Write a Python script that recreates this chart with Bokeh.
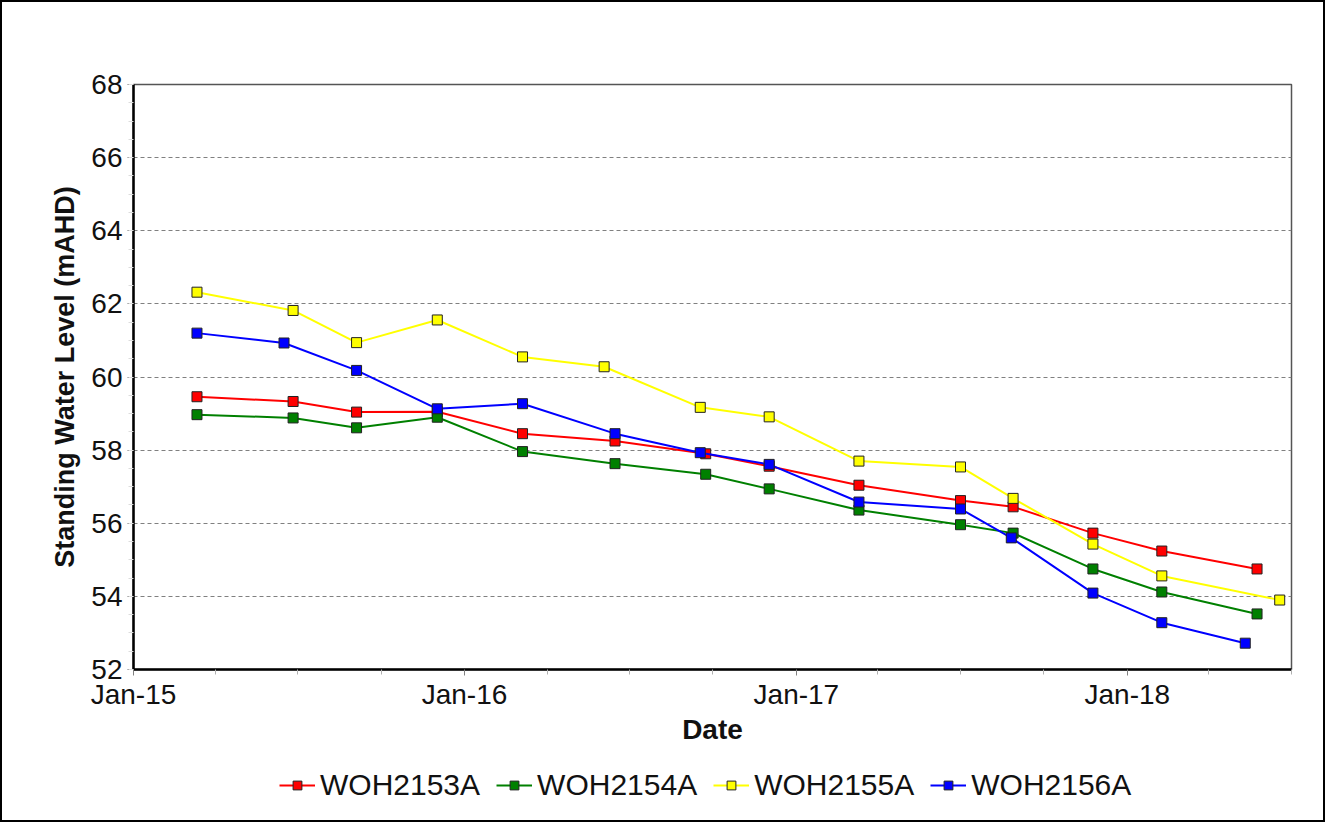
import pandas as pd
from bokeh.plotting import figure
from bokeh.layouts import column
from bokeh.models import Range1d, FixedTicker, DatetimeTickFormatter, Legend, LegendItem
from bokeh.embed import file_html
from bokeh.resources import INLINE

# ---------------- data ----------------
series_names = ["WOH2153A", "WOH2154A", "WOH2155A", "WOH2156A"]
series_colors = ["#FF0000", "#008000", "#FFFF00", "#0000FF"]

dates_2153 = ["2015-03-12", "2015-06-26", "2015-09-04", "2015-12-02", "2016-03-05", "2016-06-15",
              "2016-09-23", "2016-12-02", "2017-03-11", "2017-07-01", "2017-08-28", "2017-11-24",
              "2018-02-08", "2018-05-24"]
swl_2153 = [59.46, 59.33, 59.04, 59.05, 58.45, 58.25, 57.90, 57.56, 57.04, 56.62, 56.45, 55.73, 55.24, 54.75]

dates_2154 = ["2015-03-12", "2015-06-26", "2015-09-04", "2015-12-02", "2016-03-05", "2016-06-15",
              "2016-09-23", "2016-12-02", "2017-03-11", "2017-07-01", "2017-08-28", "2017-11-24",
              "2018-02-08", "2018-05-24"]
swl_2154 = [58.97, 58.88, 58.61, 58.90, 57.96, 57.63, 57.34, 56.94, 56.36, 55.96, 55.73, 54.75, 54.12, 53.52]

dates_2155 = ["2015-03-12", "2015-06-26", "2015-09-04", "2015-12-02", "2016-03-05", "2016-06-03",
              "2016-09-17", "2016-12-02", "2017-03-11", "2017-07-01", "2017-08-28", "2017-11-24",
              "2018-02-08", "2018-06-18"]
swl_2155 = [62.32, 61.82, 60.94, 61.56, 60.55, 60.28, 59.17, 58.91, 57.70, 57.54, 56.68, 55.43, 54.56, 53.90]

dates_2156 = ["2015-03-12", "2015-06-16", "2015-09-04", "2015-12-02", "2016-03-05", "2016-06-15",
              "2016-09-17", "2016-12-02", "2017-03-11", "2017-07-01", "2017-08-26", "2017-11-24",
              "2018-02-08", "2018-05-11"]
swl_2156 = [61.20, 60.93, 60.18, 59.13, 59.27, 58.45, 57.93, 57.61, 56.58, 56.39, 55.60, 54.09, 53.28, 52.72]

y_ticks = [52, 54, 56, 58, 60, 62, 64, 66, 68]
y_minor_ticks = [52 + 0.5 * i for i in range(33)]
x_tick_dates = ["2015-01-01", "2016-01-01", "2017-01-01", "2018-01-01"]
x_minor_dates = ["2015-04-01", "2015-07-01", "2015-10-01", "2016-04-01", "2016-07-01", "2016-10-01",
                 "2017-04-01", "2017-07-01", "2017-10-01", "2018-04-01", "2018-07-01"]
x_start, x_end = "2015-01-01", "2018-07-01"
y_start, y_end = 52, 68

all_dates = [dates_2153, dates_2154, dates_2155, dates_2156]
all_values = [swl_2153, swl_2154, swl_2155, swl_2156]


def ms(d):
    return pd.Timestamp(d).value / 1e6


FONT = "Liberation Sans"
W = 1321
H_MAIN = 747
H_LEG = 71

p = figure(width=W, height=H_MAIN, x_axis_type="datetime",
           x_range=Range1d(start=pd.Timestamp(x_start), end=pd.Timestamp(x_end)),
           y_range=Range1d(start=y_start, end=y_end),
           output_backend="svg", toolbar_location=None,
           min_border_left=131, min_border_top=82, min_border_right=32, min_border_bottom=80)

p.background_fill_color = "white"
p.border_fill_color = "white"
p.outline_line_color = "#555555"
p.outline_line_width = 1.5

for name, color, d, v in zip(series_names, series_colors, all_dates, all_values):
    x = pd.to_datetime(d)
    p.line(x, v, line_color=color, line_width=2)
    p.scatter(x, v, marker="square", size=10, fill_color=color, line_color="#222222", line_width=1)

# axes
p.xaxis.ticker = FixedTicker(ticks=[ms(d) for d in x_tick_dates], minor_ticks=[ms(d) for d in x_minor_dates])
fmt = "%b-%y"
p.xaxis.formatter = DatetimeTickFormatter(microseconds=fmt, milliseconds=fmt, seconds=fmt, minsec=fmt,
                                          minutes=fmt, hourmin=fmt, hours=fmt, days=fmt, months=fmt, years=fmt)
p.yaxis.ticker = FixedTicker(ticks=y_ticks, minor_ticks=y_minor_ticks)

for ax in (p.xaxis[0], p.yaxis[0]):
    ax.axis_line_color = "black"
    ax.axis_line_width = 2.5
    ax.major_tick_line_color = "#808080"
    ax.major_tick_out = 6
    ax.major_tick_in = 0
    ax.minor_tick_out = 5
    ax.minor_tick_in = 0
    ax.major_label_text_font = FONT
    ax.major_label_text_font_size = "28px"
    ax.major_label_text_color = "#111111"
    ax.axis_label_text_font = FONT
    ax.axis_label_text_font_style = "bold"
    ax.axis_label_text_color = "#111111"

p.xaxis.minor_tick_line_color = "#b0b0b0"
p.yaxis.minor_tick_line_color = "#dddddd"
p.xaxis.major_label_standoff = 3
p.yaxis.major_label_standoff = 5
p.xaxis.axis_label = "Date"
p.xaxis.axis_label_text_font_size = "28px"
p.xaxis.axis_label_standoff = 1
p.yaxis.axis_label = "Standing Water Level (mAHD)"
p.yaxis.axis_label_text_font_size = "27px"
p.yaxis.axis_label_standoff = 8

p.xgrid.visible = False
p.ygrid.ticker = FixedTicker(ticks=y_ticks)
p.ygrid.grid_line_color = "#808080"
p.ygrid.grid_line_dash = "4 3"
p.ygrid.grid_line_width = 1

# ---------------- legend strip below the chart ----------------
# the series are re-plotted here far outside the strip's visible range, only to feed the legend glyphs
pl = figure(width=W, height=H_LEG,
            x_range=Range1d(start=pd.Timestamp(x_start), end=pd.Timestamp(x_end)),
            y_range=Range1d(1000, 1001),
            output_backend="svg", toolbar_location=None,
            x_axis_location=None, y_axis_location=None,
            min_border=0, min_border_left=0, min_border_right=0, min_border_top=0, min_border_bottom=0)
pl.outline_line_color = None
pl.xgrid.visible = False
pl.ygrid.visible = False
pl.border_fill_color = "white"
pl.background_fill_color = "white"

items = []
for name, color, d, v in zip(series_names, series_colors, all_dates, all_values):
    x = pd.to_datetime(d)
    rl = pl.line(x, v, line_color=color, line_width=2)
    rs = pl.scatter(x, v, marker="square", size=10, fill_color=color, line_color="#222222", line_width=1)
    items.append(LegendItem(label=name, renderers=[rl, rs]))

legend = Legend(items=items, orientation="horizontal", location=(146, 18),
                glyph_width=36, glyph_height=22, label_standoff=5, spacing=16,
                padding=0, margin=0, border_line_color=None, background_fill_alpha=0,
                label_text_font=FONT, label_text_font_size="30px", label_text_color="#111111")
pl.add_layout(legend)

layout = column(p, pl, spacing=0, styles={"border": "2px solid black", "background-color": "white"})

open("out.html", "w").write(file_html(layout, INLINE))
